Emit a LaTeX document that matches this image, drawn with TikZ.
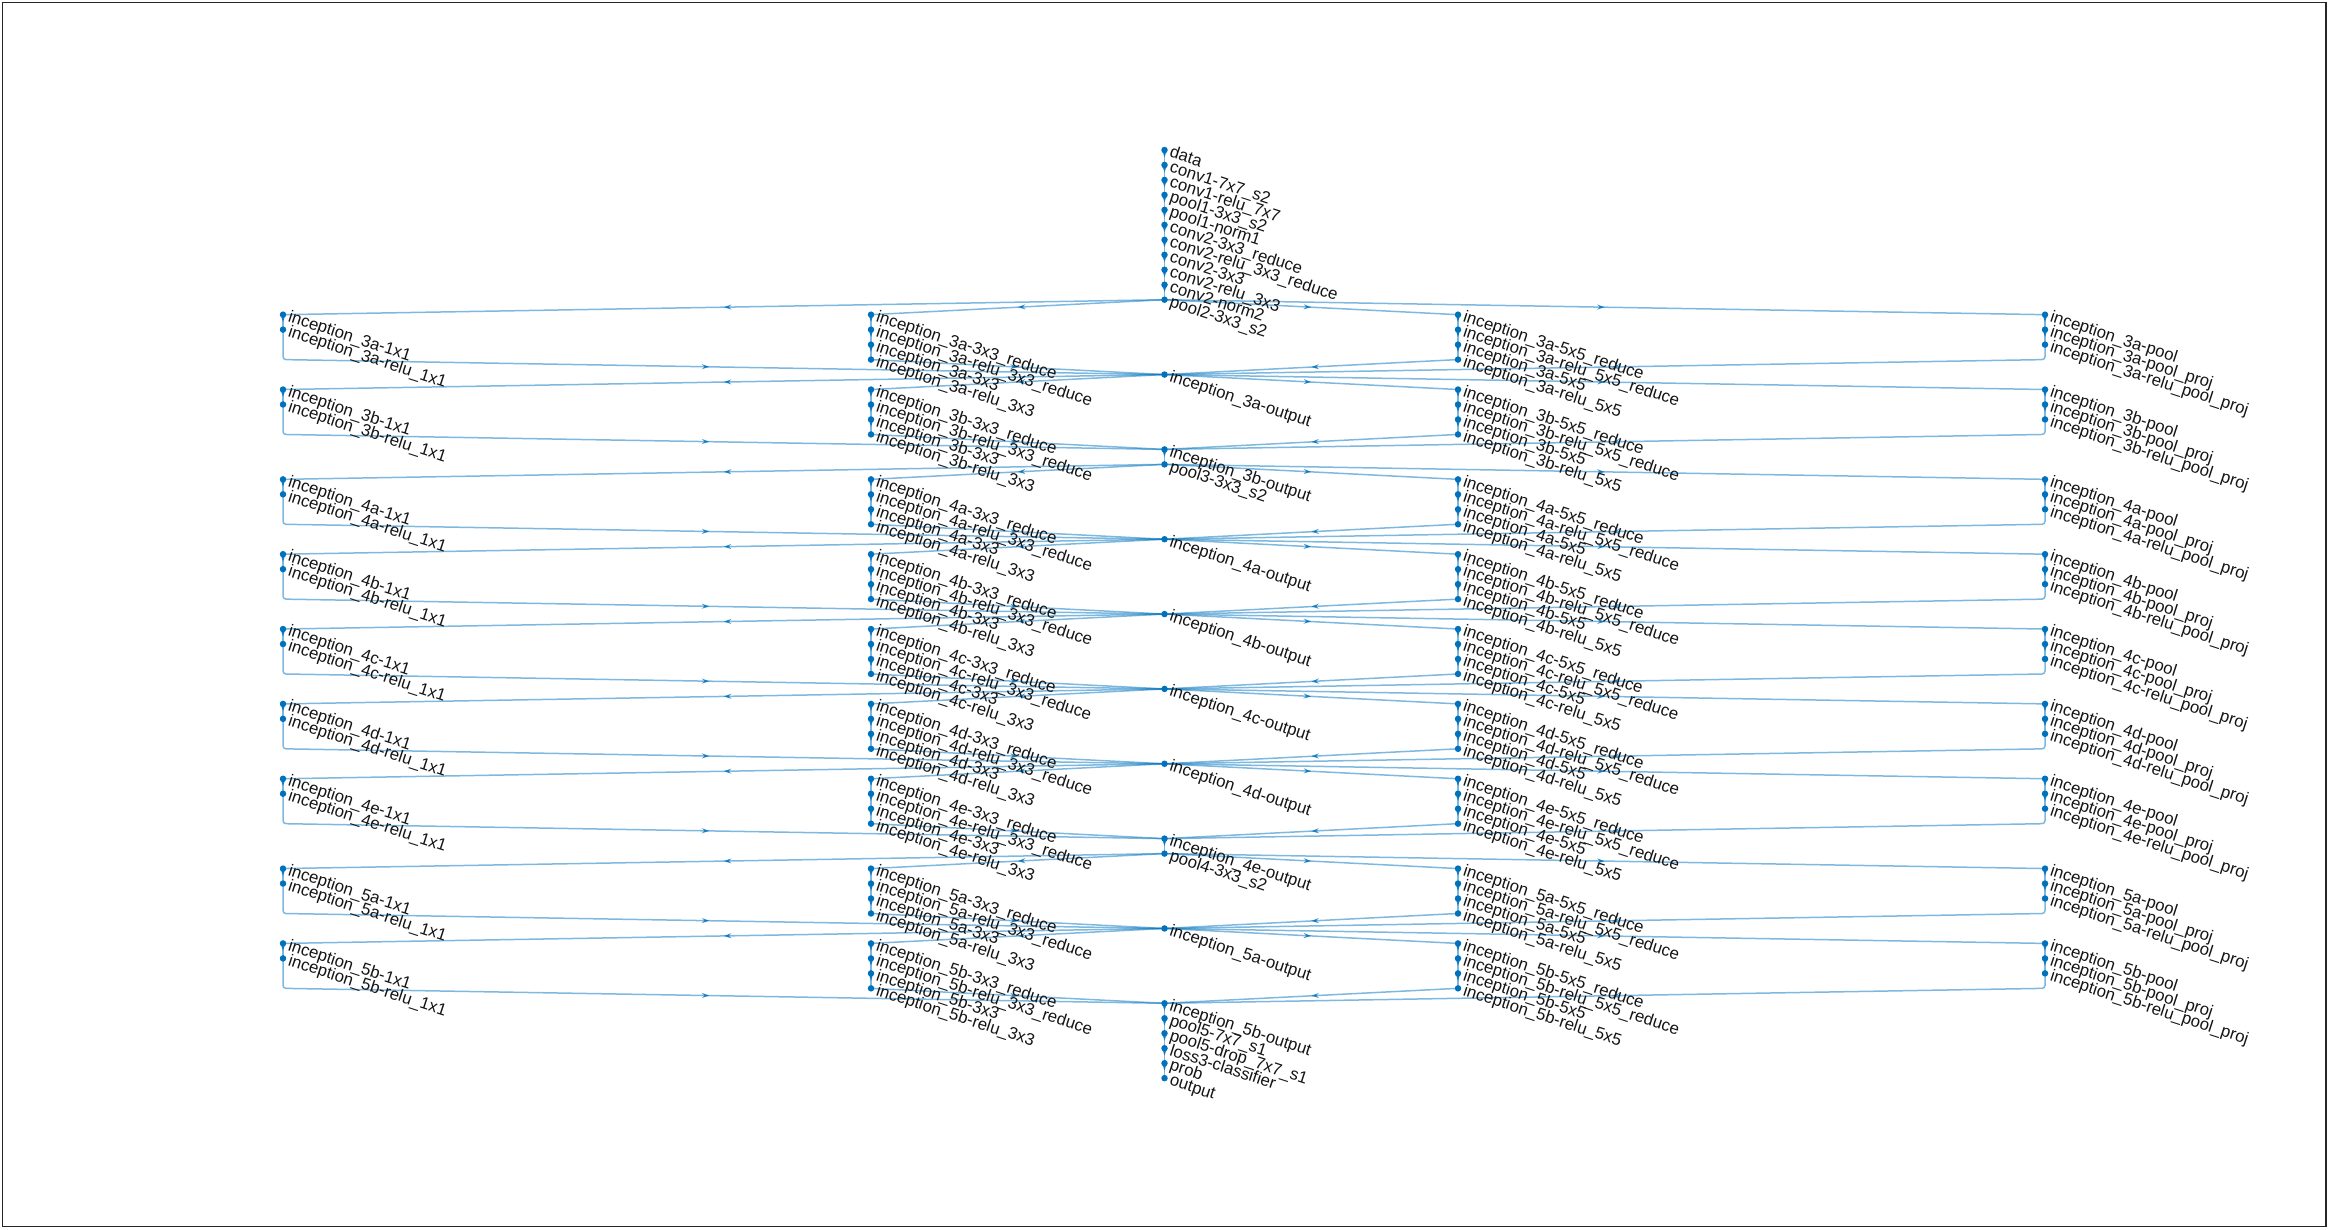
\documentclass[tikz,border=0pt]{standalone}
\usepackage{fontspec}
\setmainfont{Liberation Sans}
\usetikzlibrary{arrows.meta,decorations.markings}
\definecolor{nodecol}{RGB}{0,114,189}
\definecolor{framecol}{RGB}{38,38,38}
\definecolor{textcol}{RGB}{20,20,20}
\pgfdeclarelayer{bg}
\pgfsetlayers{bg,main}
\tikzset{
  gnode/.style={circle, fill=nodecol, inner sep=0pt, minimum size=6.5pt},
  glabel/.style={anchor=north west, rotate=-18, inner sep=0pt, text height=0.74em, text depth=0.22em,
    font=\fontsize{16.8}{18}\selectfont, text=textcol},
  gedge/.style={draw=nodecol, draw opacity=0.5, line width=1.5pt, rounded corners=3pt,
    postaction={decorate},
    decoration={markings, mark=at position 0.5 with {\arrow[nodecol,opacity=0.75]{Stealth[length=7.5pt,width=5pt]}}}},
}
\newcommand\gn[4]{%
  \node[gnode] (#1) at (#2,{150+14.97*(#3)}) {};
  \node[glabel] (#1-t) at ({#2+6.5},{150+14.97*(#3)-0.5}) {#4};}
\newcommand\gconn[2]{\begin{pgfonlayer}{bg}\draw[gedge] (#1.center) -- (#2.center);\end{pgfonlayer}}
\begin{document}
\begin{tikzpicture}[x=1pt,y=-1pt]
\useasboundingbox (0,0) rectangle (2329,1229);
\draw[framecol,line width=1.3pt] (2.3,2.3) rectangle (2326,1226.3);
% top chain
\foreach \t [count=\i from 0] in {data,conv1-7x7\_s2,conv1-relu\_7x7,pool1-3x3\_s2,pool1-norm1,conv2-3x3\_reduce,conv2-relu\_3x3\_reduce,conv2-3x3,conv2-relu\_3x3,conv2-norm2,pool2-3x3\_s2}{
  \gn{top\i}{1164.5}{\i}{\t}
}
\foreach \i [evaluate=\i as \j using int(\i+1)] in {0,...,9}{\gconn{top\i}{top\j}}
% pooling nodes between modules
\gn{pool3}{1164.5}{21}{pool3-3x3\_s2}
\gn{pool4}{1164.5}{47}{pool4-3x3\_s2}
% inception modules
\foreach \m/\s/\inp in {3a/11/top10,3b/16/o3a,4a/22/pool3,4b/27/o4a,4c/32/o4b,4d/37/o4c,4e/42/o4d,5a/48/pool4,5b/53/o5a}{
  \gn{\m-a1}{283}{\s}{inception\_\m-1x1}
  \gn{\m-a2}{283}{\s+1}{inception\_\m-relu\_1x1}
  \coordinate (\m-a3) at (283,{150+14.97*(\s+2)});
  \coordinate (\m-a4) at (283,{150+14.97*(\s+3)});
  \gn{\m-b1}{871}{\s}{inception\_\m-3x3\_reduce}
  \gn{\m-b2}{871}{\s+1}{inception\_\m-relu\_3x3\_reduce}
  \gn{\m-b3}{871}{\s+2}{inception\_\m-3x3}
  \gn{\m-b4}{871}{\s+3}{inception\_\m-relu\_3x3}
  \gn{\m-c1}{1458}{\s}{inception\_\m-5x5\_reduce}
  \gn{\m-c2}{1458}{\s+1}{inception\_\m-relu\_5x5\_reduce}
  \gn{\m-c3}{1458}{\s+2}{inception\_\m-5x5}
  \gn{\m-c4}{1458}{\s+3}{inception\_\m-relu\_5x5}
  \gn{\m-d1}{2045}{\s}{inception\_\m-pool}
  \gn{\m-d2}{2045}{\s+1}{inception\_\m-pool\_proj}
  \gn{\m-d3}{2045}{\s+2}{inception\_\m-relu\_pool\_proj}
  \coordinate (\m-d4) at (2045,{150+14.97*(\s+3)});
  \gn{o\m}{1164.5}{\s+4}{inception\_\m-output}
  \gconn{\inp}{\m-a1}
  \gconn{\inp}{\m-b1}
  \gconn{\inp}{\m-c1}
  \gconn{\inp}{\m-d1}
  \gconn{\m-a1}{\m-a2}
  \gconn{\m-b1}{\m-b2}
  \gconn{\m-b2}{\m-b3}
  \gconn{\m-b3}{\m-b4}
  \gconn{\m-b4}{o\m}
  \gconn{\m-c1}{\m-c2}
  \gconn{\m-c2}{\m-c3}
  \gconn{\m-c3}{\m-c4}
  \gconn{\m-c4}{o\m}
  \gconn{\m-d1}{\m-d2}
  \gconn{\m-d2}{\m-d3}
  \begin{pgfonlayer}{bg}
    \draw[gedge] (\m-a2.center) -- (\m-a3) -- (\m-a4) -- (o\m.center);
    \draw[gedge] (\m-d3.center) -- (\m-d4) -- (o\m.center);
  \end{pgfonlayer}
}
\gconn{o3b}{pool3}
\gconn{o4e}{pool4}
% tail
\gn{pool5}{1164.5}{58}{pool5-7x7\_s1}
\gn{drop5}{1164.5}{59}{pool5-drop\_7x7\_s1}
\gn{cls}{1164.5}{60}{loss3-classifier}
\gn{prob}{1164.5}{61}{prob}
\gn{outp}{1164.5}{62}{output}
\gconn{o5b}{pool5}
\gconn{pool5}{drop5}
\gconn{drop5}{cls}
\gconn{cls}{prob}
\gconn{prob}{outp}
\end{tikzpicture}
\end{document}
